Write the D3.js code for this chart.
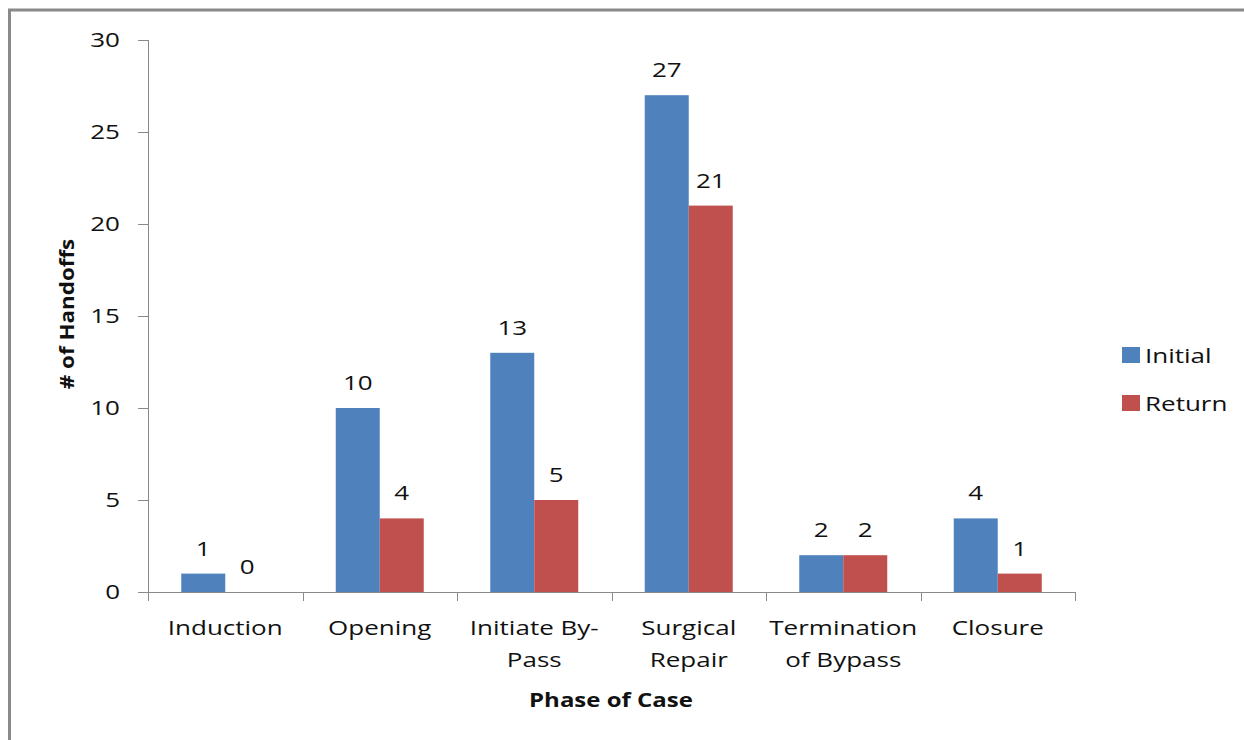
<!DOCTYPE html>
<html><head><meta charset="utf-8">
<script src="https://cdn.jsdelivr.net/npm/d3@7"></script>
<style>body{margin:0;background:#fff}svg{display:block}text{font-family:"Open Sans",sans-serif;fill:#111}</style>
</head><body><svg id="c" width="1244" height="740"></svg>
<script>
const categories = [["Induction"],["Opening"],["Initiate By-","Pass"],["Surgical","Repair"],["Termination","of Bypass"],["Closure"]];
const seriesNames = ["Initial","Return"];
const initialValues = [1,10,13,27,2,4];
const returnValues = [0,4,5,21,2,1];
const yTicks = [0,5,10,15,20,25,30];
const colors = ["#4F81BD","#C0504D"];

const svg = d3.select("#c");
svg.append("rect").attr("x",9.5).attr("y",10).attr("width",1250).attr("height",750)
  .attr("fill","#fff").attr("stroke","#8a8a8a").attr("stroke-width",3);

const x = d3.scaleBand().domain(d3.range(categories.length)).range([148,1075]);
const y = d3.scaleLinear().domain([0,30]).range([592,40]);
const bw = 44;
const sx = 1.3;

// y axis
const yAxis = svg.append("g");
yAxis.append("line").attr("x1",148.5).attr("x2",148.5).attr("y1",y(30)).attr("y2",y(0)).attr("stroke","#8a8a8a");
yTicks.forEach(t=>{
  const yy = Math.round(y(t))+0.5;
  yAxis.append("line").attr("x1",138).attr("x2",148).attr("y1",yy).attr("y2",yy).attr("stroke","#8a8a8a");
  yAxis.append("text").attr("transform",`translate(120,${y(t)+7}) scale(${sx},1)`).attr("text-anchor","end")
    .attr("font-size",20).text(t);
});

// bars
const series = [initialValues, returnValues];
series.forEach((vals,si)=>{
  svg.append("g").selectAll("rect").data(vals).join("rect")
    .attr("x",(d,i)=>x(i)+x.bandwidth()/2 - bw + si*bw)
    .attr("y",d=>y(d)).attr("width",bw).attr("height",d=>y(0)-y(d))
    .attr("fill",colors[si]);
  svg.append("g").selectAll("text").data(vals).join("text")
    .attr("transform",(d,i)=>`translate(${x(i)+x.bandwidth()/2 - bw/2 + si*bw},${y(d)-18}) scale(${sx},1)`)
    .attr("text-anchor","middle").attr("font-size",20).text(d=>d);
});

// x axis
const xAxis = svg.append("g");
xAxis.append("line").attr("x1",148).attr("x2",1075).attr("y1",592.5).attr("y2",592.5).attr("stroke","#8a8a8a");
d3.range(categories.length+1).forEach(i=>{
  const xx = Math.round(148 + i*x.bandwidth())+0.5;
  xAxis.append("line").attr("x1",xx).attr("x2",xx).attr("y1",592).attr("y2",601).attr("stroke","#8a8a8a");
});
categories.forEach((lines,i)=>{
  lines.forEach((ln,j)=>{
    xAxis.append("text").attr("transform",`translate(${x(i)+x.bandwidth()/2},${635+j*32}) scale(${sx},1)`)
      .attr("text-anchor","middle").attr("font-size",20).text(ln);
  });
});

// titles
svg.append("text").attr("transform",`translate(611,707) scale(1.2,1)`).attr("text-anchor","middle")
  .attr("font-size",20).attr("font-weight","bold").text("Phase of Case");
svg.append("text").attr("transform",`translate(74,314) rotate(-90) scale(1.12,1)`).attr("text-anchor","middle")
  .attr("font-size",20).attr("font-weight","bold").text("# of Handoffs");

// legend
seriesNames.forEach((n,i)=>{
  const ly = 347 + i*48;
  svg.append("rect").attr("x",1122).attr("y",ly).attr("width",18).attr("height",16).attr("fill",colors[i]);
  svg.append("text").attr("transform",`translate(1145,${ly+16}) scale(${sx},1)`).attr("font-size",20).text(n);
});
</script></body></html>
